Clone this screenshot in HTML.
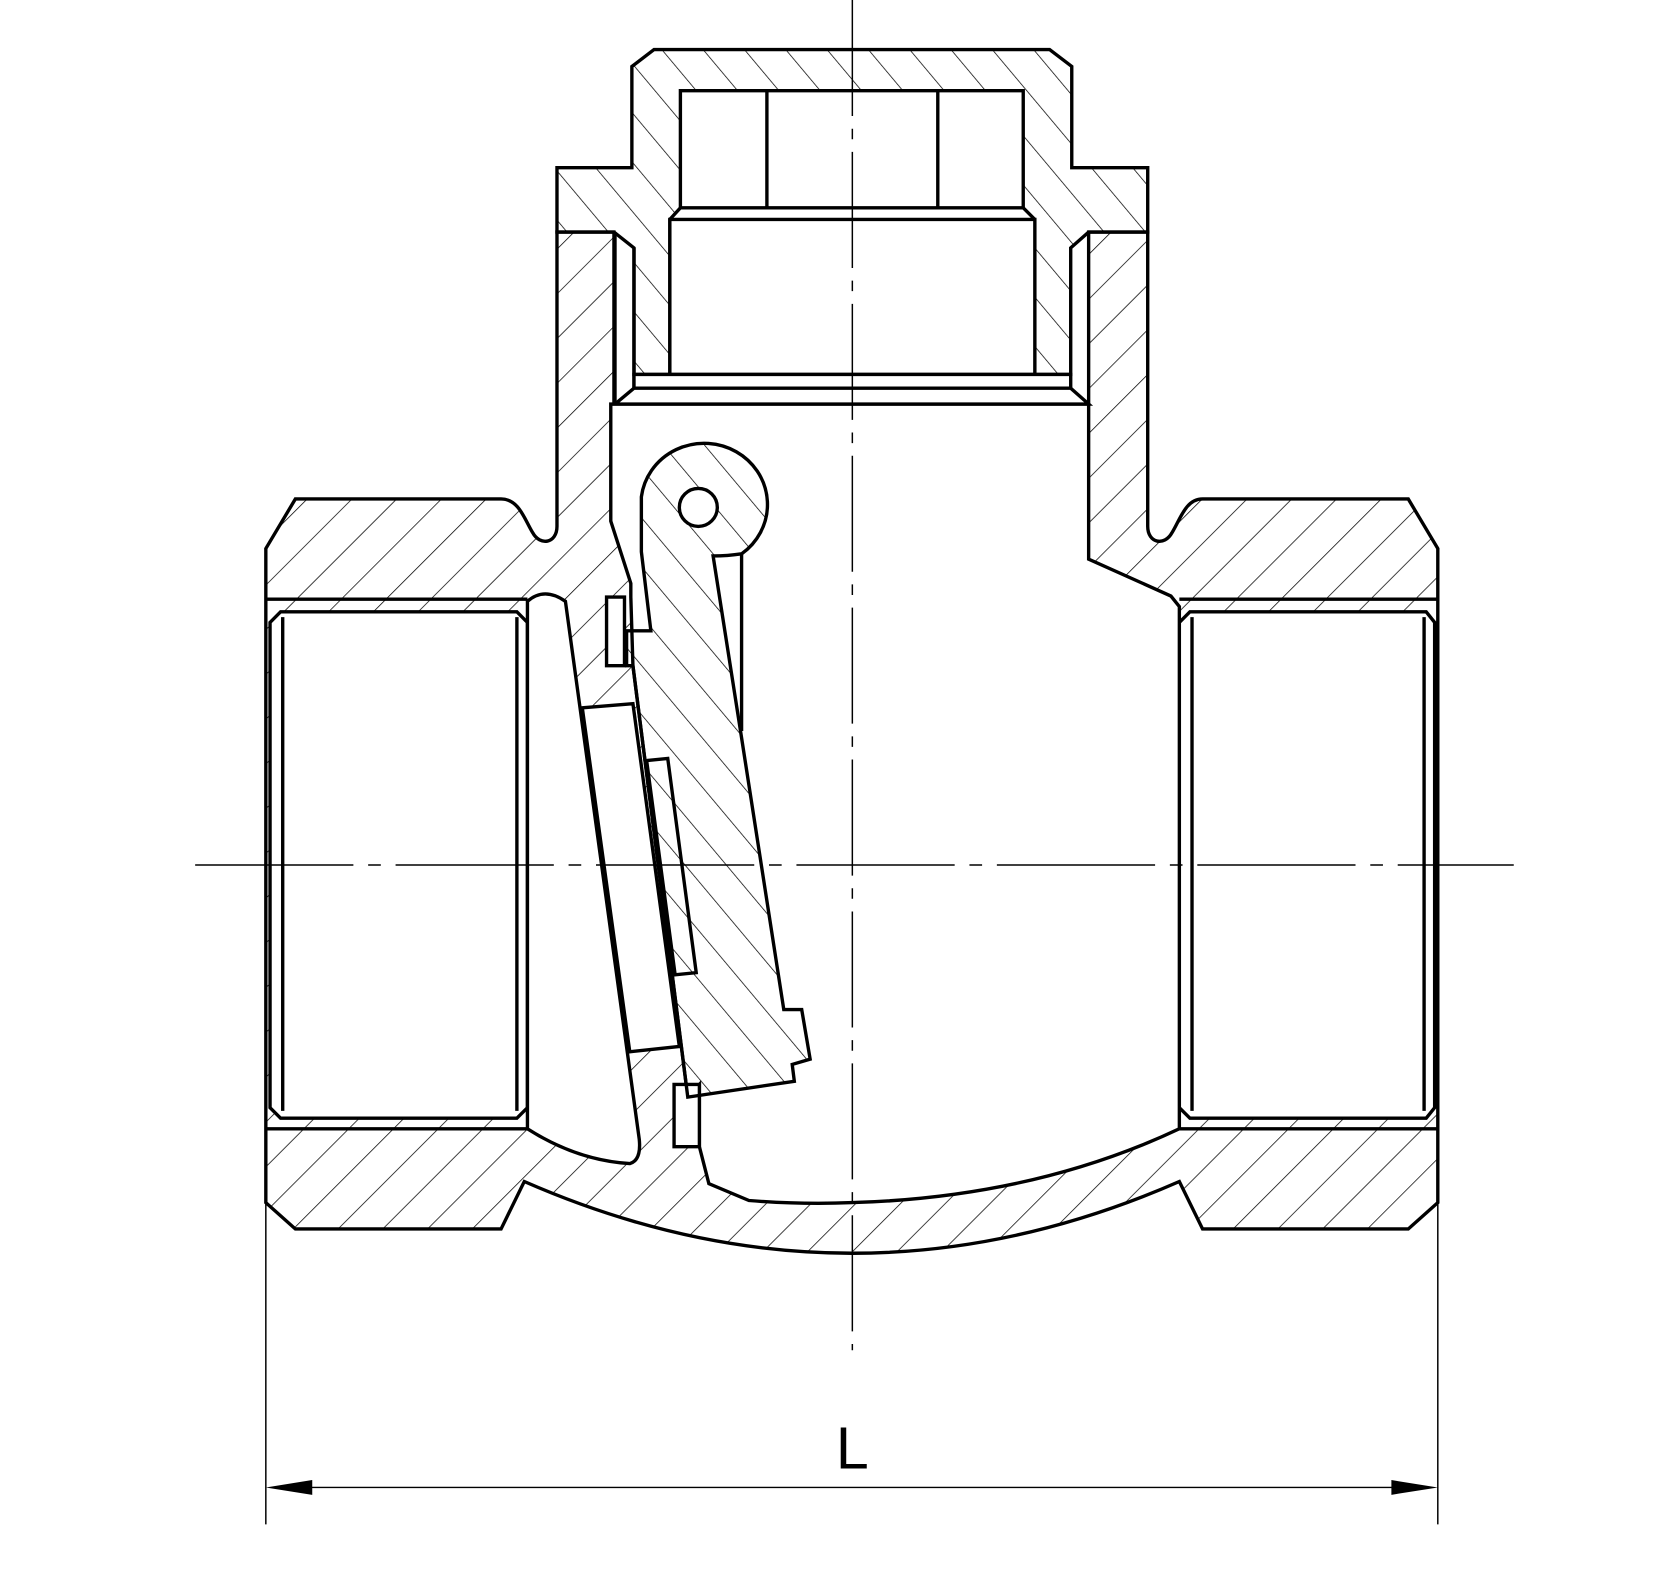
<!DOCTYPE html>
<html><head><meta charset="utf-8"><style>html,body{margin:0;padding:0;background:#fff}svg{display:block}</style></head>
<body>
<svg width="1653" height="1575" viewBox="0 0 1567 1493" preserveAspectRatio="none" xmlns="http://www.w3.org/2000/svg">
<defs>
<pattern id="hf" patternUnits="userSpaceOnUse" width="30" height="30" patternTransform="rotate(45)">
<line x1="0" y1="0" x2="0" y2="30" stroke="#000" stroke-width="1.4"/></pattern>
<pattern id="hb" patternUnits="userSpaceOnUse" width="30" height="30" patternTransform="rotate(-40)">
<line x1="0" y1="0" x2="0" y2="30" stroke="#000" stroke-width="1.4"/></pattern>
</defs>
<g fill="none" stroke="#000" stroke-width="3.2" stroke-linejoin="miter">
<!-- body -->
<path fill-rule="evenodd" fill="url(#hf)" d="
M252,520 L280,473 L475,473 C492,473 497,492 505,505 C512,518 528,515 528,499 L528,220 L582,220 L582,383 L1032,383 L1032,220 L1088,220 L1088,499 C1088,515 1104,518 1111,505 C1119,492 1124,473 1140,473 L1335,473 L1363,520 L1363,1140 L1335,1165 L1140,1165 L1118,1120 Q808,1256 497,1120 L475,1165 L280,1165 L252,1140 Z
M256,590 L266,580 L490,580 L500,590 L500,1050 L490,1060 L266,1060 L256,1050 Z
M1118,590 L1128,580 L1352,580 L1360,590 L1360,1050 L1352,1060 L1128,1060 L1118,1050 Z
M579,383 L1032,383 L1032,530 L1110,565 L1118,575 L1118,1070 Q980,1135 808,1140 Q760,1142 710,1138 L672,1122 L663,1087 L663,1028 L652,1040 L600,631 L598,566 L598,553 L579,494 Z"/>
<!-- thread lines -->
<path d="M252,568 L500,568 M252,1070 L500,1070 M268,585 L268,1053 M490,585 L490,1053 M1118,568 L1363,568 M1118,1070 L1363,1070 M1130,585 L1130,1053 M1350,585 L1350,1053"/>
<path d="M583,220 L583,383 M601,235 L601,368"/>
<!-- cap -->
<path fill="url(#hb)" d="M599,63 L620,47 L995,47 L1016,63 L1016,159 L1088,159 L1088,220 L1032,220 L1015,235 L1015,355 L981,355 L981,208 L970,197 L645,197 L635,208 L635,355 L601,355 L601,235 L582,220 L528,220 L528,159 L599,159 Z"/>
<path fill="#fff" d="M645,86 L970,86 L970,197 L645,197 Z M727,86 L727,197 M889,86 L889,197"/>
<path fill="#fff" d="M635,208 L981,208 L981,355 L635,355 Z"/>
<path fill="#fff" d="M601,355 L1015,355 L1015,368 L601,368 Z"/>
<path fill="#fff" d="M583,383 L601,368 L1015,368 L1032,383 Z"/>
<!-- seat ring -->
<path fill="#fff" d="M500,570 Q516,556 536,570 L606,1080 Q608,1100 597,1103 Q547,1100 500,1070 Z"/>
<!-- disc plate -->
<path fill="#fff" d="M552,671 L600,667 L644,992 L597,997 Z"/>
<path fill="#fff" d="M613,721 L633,719 L660,922 L640,924 Z"/>
<!-- keys -->
<path fill="#fff" d="M575,566 L592,566 L592,631 L575,631 Z"/>
<path fill="#fff" d="M639,1028 L663,1028 L663,1087 L639,1087 Z"/>
<!-- arm -->
<path fill="url(#hb)" d="M608,471 A60,58 0 1 1 703,525 Q690,527 676,527 L702,693 L743,957 L760,957 L768,1004 L751,1009 L753,1025 L652,1040 L600,631 L594,631 L594,598 L617,598 L608,523 Z"/>
<path d="M703,525 L703,693"/>
<circle cx="662" cy="481" r="18" fill="#fff"/>
</g>
<!-- centerlines -->
<g stroke="#000" stroke-width="1.4" fill="none">
<path d="M808,0 L808,1280" stroke-dasharray="110,12,10,12"/>
<path d="M185,820 L1435,820" stroke-dasharray="150,14,12,14"/>
<path d="M252,1135 L252,1445 M1363,1135 L1363,1445 M290,1410 L1325,1410"/>
</g>
<path d="M252,1410 L296,1403 L296,1417 Z M1363,1410 L1319,1403 L1319,1417 Z" fill="#000"/>
<text x="808" y="1392" font-family="Liberation Sans, sans-serif" font-size="56" text-anchor="middle">L</text>
</svg>
</body></html>
